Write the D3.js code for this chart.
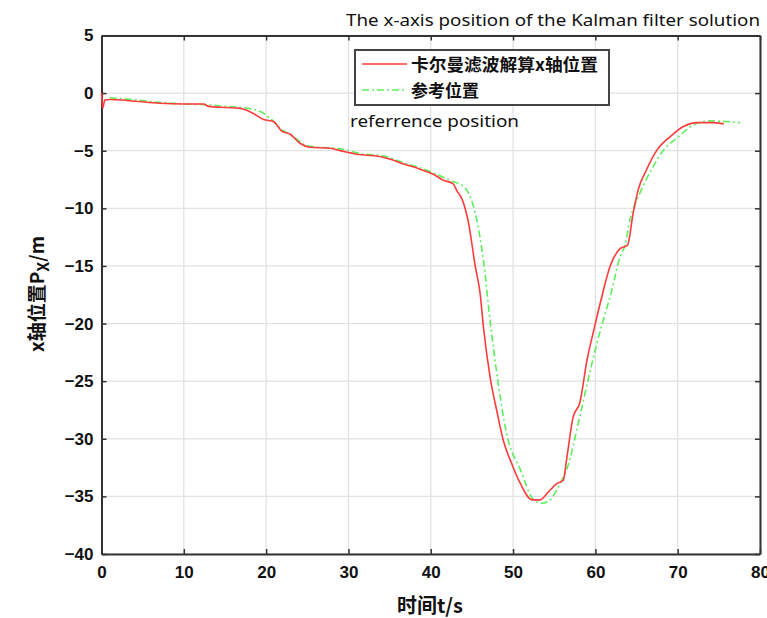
<!DOCTYPE html>
<html><head><meta charset="utf-8">
<script src="https://cdn.jsdelivr.net/npm/d3@7"></script>
<style>body{margin:0;background:#fff}svg{display:block}</style>
</head><body>
<script>
// ---- data ----
const kalmanT = [0,0.15,0.4,1,4,7,10,12.4,13,15,16.8,18.4,19.7,20.9,21.9,22.9,24.1,25.3,27.8,29,31,33.8,35.1,36.7,38.7,40.3,41.5,42.7,43.2,43.8,44.6,45.4,46,46.4,47.2,48,48.8,49.8,50.9,52.3,53.3,54.3,55.3,56.1,56.5,57.3,58.1,59,59.8,60.6,61.8,63,63.9,64.6,65.2,66.2,67.5,69.1,70.7,72.3,74.3,75.6];
const kalmanX = [0,-1.3,-0.6,-0.55,-0.7,-0.88,-0.95,-0.95,-1.15,-1.25,-1.31,-1.75,-2.3,-2.47,-3.3,-3.55,-4.35,-4.7,-4.79,-4.99,-5.3,-5.5,-5.74,-6.15,-6.6,-7.04,-7.55,-7.85,-8.5,-9.2,-11.3,-15.0,-17.4,-20.3,-24.6,-27.5,-30.1,-32.1,-33.9,-35.3,-35.3,-34.6,-33.9,-33.6,-31.8,-28.1,-26.9,-23.1,-20.6,-18.2,-15.0,-13.5,-13.2,-10.4,-8.4,-6.67,-4.93,-3.77,-2.9,-2.56,-2.56,-2.67];
const refT = [1,2,7,10,12.5,15,17.6,19.3,20.5,21.7,23.3,24.9,26.5,28.6,31.8,34.2,36.3,39.9,42.7,44,44.6,45.2,46,46.4,47.2,48.2,49.2,50.9,52.5,53.5,54.5,55.7,56.5,58.1,59.4,60.6,62,63,63.6,64.2,65.4,67,68.3,69.9,71.9,73.9,75.9,77.6];
const refX = [-0.4,-0.45,-0.8,-0.95,-1.0,-1.15,-1.3,-1.6,-2.18,-3.05,-3.77,-4.55,-4.7,-4.79,-5.28,-5.45,-5.94,-6.8,-7.68,-8.1,-8.7,-9.85,-12.6,-14.5,-19.7,-25.2,-29.5,-32.7,-35.3,-35.6,-35.3,-33.9,-32.7,-28.1,-24.0,-20.6,-17.1,-14.2,-13.2,-11.0,-8.7,-6.4,-4.93,-3.9,-2.76,-2.41,-2.47,-2.56];
const xTicks = [0,10,20,30,40,50,60,70,80];
const yTicks = [5,0,-5,-10,-15,-20,-25,-30,-35,-40];
const titleText = "The x-axis position of the Kalman filter solution";
const legendNames = ["卡尔曼滤波解算x轴位置","参考位置"];
const noteText = "referrence position";

const W=767,H=618;
const L=101.5,R=760,T=35.5,B=554;
const svg=d3.select("body").append("svg").attr("width",W).attr("height",H);
const x=d3.scaleLinear().domain([0,80]).range([L,R]);
const y=d3.scaleLinear().domain([-40,5]).range([B,T]);

// grid
const g=svg.append("g");
g.selectAll("line.gx").data(xTicks).join("line").attr("x1",d=>x(d)).attr("x2",d=>x(d)).attr("y1",T).attr("y2",B).attr("stroke","#e2e2e2").attr("stroke-width",1.3);
g.selectAll("line.gy").data(yTicks).join("line").attr("y1",d=>y(d)).attr("y2",d=>y(d)).attr("x1",L).attr("x2",R).attr("stroke","#e2e2e2").attr("stroke-width",1.3);

const tickFont='"Liberation Sans Narrow","Arial Narrow","Liberation Sans",sans-serif';
// axes
const ax=svg.append("g").attr("transform",`translate(0,${B})`).call(d3.axisBottom(x).tickValues(xTicks).tickSizeInner(-5).tickSizeOuter(0).tickPadding(12));
const ay=svg.append("g").attr("transform",`translate(${L},0)`).call(d3.axisLeft(y).tickValues(yTicks).tickSizeInner(-5).tickSizeOuter(0).tickPadding(8));
const axt=svg.append("g").attr("transform",`translate(0,${T})`).call(d3.axisTop(x).tickValues(xTicks).tickSizeInner(-5).tickSizeOuter(0).tickFormat(""));
const ayr=svg.append("g").attr("transform",`translate(${R},0)`).call(d3.axisRight(y).tickValues(yTicks).tickSizeInner(-5).tickSizeOuter(0).tickFormat(""));
[ax,ay,axt,ayr].forEach(a=>{
  a.select(".domain").attr("stroke","#333").attr("stroke-width",2);
  a.selectAll(".tick line").attr("stroke","#333").attr("stroke-width",1.5);
  a.selectAll("text").attr("font-family",tickFont).attr("font-weight","bold").attr("font-size",17).attr("fill","#111");
});

// lines
const line=d3.line().x(d=>x(d[0])).y(d=>y(d[1])).curve(d3.curveMonotoneX);
svg.append("path").datum(refT.map((t,i)=>[t,refX[i]])).attr("d",line).attr("fill","none").attr("stroke","#5cf05c").attr("stroke-width",1.6).attr("stroke-dasharray","7,3,2,3");
svg.append("path").datum(kalmanT.map((t,i)=>[t,kalmanX[i]])).attr("d",line).attr("fill","none").attr("stroke","#ff3b3b").attr("stroke-width",1.6);

// title
svg.append("text").attr("x",760).attr("y",26).attr("text-anchor","end").attr("font-family","'Noto Sans',sans-serif").attr("font-size",16).attr("fill","#111").attr("textLength",414).attr("lengthAdjust","spacingAndGlyphs").text(titleText);

// legend
const lg=svg.append("g");
lg.append("rect").attr("x",355).attr("y",50).attr("width",254).attr("height",55).attr("fill","#fff").attr("stroke","#444").attr("stroke-width",2);
lg.append("line").attr("x1",362).attr("x2",407).attr("y1",64).attr("y2",64).attr("stroke","#ff3b3b").attr("stroke-width",1.6);
lg.append("line").attr("x1",362).attr("x2",407).attr("y1",90).attr("y2",90).attr("stroke","#5cf05c").attr("stroke-width",1.6).attr("stroke-dasharray","7,3,2,3");
const cjk='"Noto Sans CJK SC",sans-serif';
lg.append("text").attr("x",411).attr("y",71).attr("font-family",cjk).attr("font-weight","bold").attr("font-size",17).attr("fill","#111").attr("textLength",187).attr("lengthAdjust","spacingAndGlyphs").text(legendNames[0]);
lg.append("text").attr("x",411).attr("y",97).attr("font-family",cjk).attr("font-weight","bold").attr("font-size",17).attr("fill","#111").text(legendNames[1]);

// note
svg.append("text").attr("x",350).attr("y",127).attr("font-family","'Noto Sans',sans-serif").attr("font-size",17).attr("fill","#111").attr("textLength",169).attr("lengthAdjust","spacingAndGlyphs").text(noteText);

// axis labels
svg.append("text").attr("x",430).attr("y",613).attr("text-anchor","middle").attr("font-family",cjk).attr("font-weight","bold").attr("font-size",20).attr("fill","#111").attr("textLength",66).attr("lengthAdjust","spacingAndGlyphs").text("时间t/s");
const yl=svg.append("text").attr("transform","translate(44,294) rotate(-90)").attr("text-anchor","middle").attr("font-family",cjk).attr("font-weight","bold").attr("font-size",19).attr("fill","#111");
yl.append("tspan").text("x轴位置P");
yl.append("tspan").attr("dy",5).attr("font-size",16).text("X");
yl.append("tspan").attr("dy",-5).text("/m");
</script>
</body></html>
